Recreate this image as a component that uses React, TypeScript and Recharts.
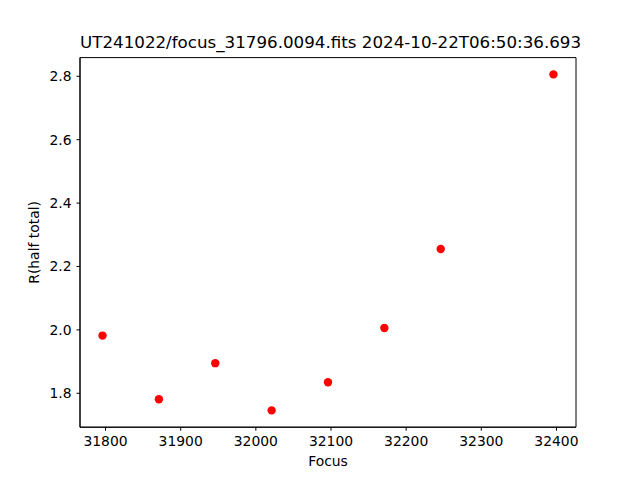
import { ScatterChart, Scatter, XAxis, YAxis, ReferenceArea } from "recharts";

const focus = [31796, 31871, 31946, 32021, 32096, 32171, 32246, 32396];
const rHalfTotal = [1.982, 1.781, 1.895, 1.746, 1.835, 2.006, 2.255, 2.806];
const xTicks = [31800, 31900, 32000, 32100, 32200, 32300, 32400];
const yTicks = [1.8, 2.0, 2.2, 2.4, 2.6, 2.8];
const TITLE = "UT241022/focus_31796.0094.fits 2024-10-22T06:50:36.693";

const FONT = "'DejaVu Sans', sans-serif";

// matplotlib-style 5% padding around the data
function pad(vals: number[]): [number, number] {
  const lo = Math.min(...vals);
  const hi = Math.max(...vals);
  const m = (hi - lo) * 0.05;
  return [lo - m, hi + m];
}

const xDomain = pad(focus);
const yDomain = pad(rHalfTotal);
const points = focus.map((x, i) => ({ x, y: rHalfTotal[i] }));

const Dot = (props: any) => <circle cx={props.cx} cy={props.cy} r={4.2} fill="#ff0000" />;

export default function App() {
  return (
    <div style={{ position: "fixed", left: 0, top: 0, width: 640, height: 480, background: "#fff", fontFamily: FONT }}>
      <div
        style={{
          position: "absolute",
          left: 80,
          width: 496,
          top: 31,
          textAlign: "center",
          fontSize: 16.7,
          lineHeight: "22px",
          color: "#000",
          whiteSpace: "nowrap",
        }}
      >
        {TITLE}
      </div>
      <ScatterChart width={640} height={480} margin={{ top: 57.6, right: 64, bottom: 0, left: 0 }}>
        <XAxis
          type="number"
          dataKey="x"
          domain={xDomain}
          ticks={xTicks}
          allowDataOverflow
          height={52.8}
          stroke="#000"
          tickSize={3.5}
          tickMargin={5}
          tick={{ fill: "#000", fontSize: 13.9, fontFamily: FONT }}
          label={(p: any) => {
            const vb = p.viewBox;
            return (
              <text x={vb.x + vb.width / 2} y={466} textAnchor="middle" fontSize={13.9} fontFamily={FONT} fill="#000">
                Focus
              </text>
            );
          }}
        />
        <YAxis
          type="number"
          dataKey="y"
          domain={yDomain}
          ticks={yTicks}
          allowDataOverflow
          width={80}
          stroke="#000"
          tickSize={3.5}
          tickMargin={5}
          tickFormatter={(v: number) => v.toFixed(1)}
          tick={{ fill: "#000", fontSize: 13.9, fontFamily: FONT }}
          label={(p: any) => {
            const vb = p.viewBox;
            const cx = 39;
            const cy = vb.y + vb.height / 2;
            return (
              <text x={cx} y={cy} transform={`rotate(-90 ${cx} ${cy})`} textAnchor="middle" fontSize={13.9} fontFamily={FONT} fill="#000">
                R(half total)
              </text>
            );
          }}
        />
        <ReferenceArea
          x1={xDomain[0]}
          x2={xDomain[1]}
          y1={yDomain[0]}
          y2={yDomain[1]}
          fill="none"
          stroke="#000"
          strokeWidth={1}
          ifOverflow="visible"
        />
        <Scatter data={points} shape={Dot} isAnimationActive={false} />
      </ScatterChart>
    </div>
  );
}
